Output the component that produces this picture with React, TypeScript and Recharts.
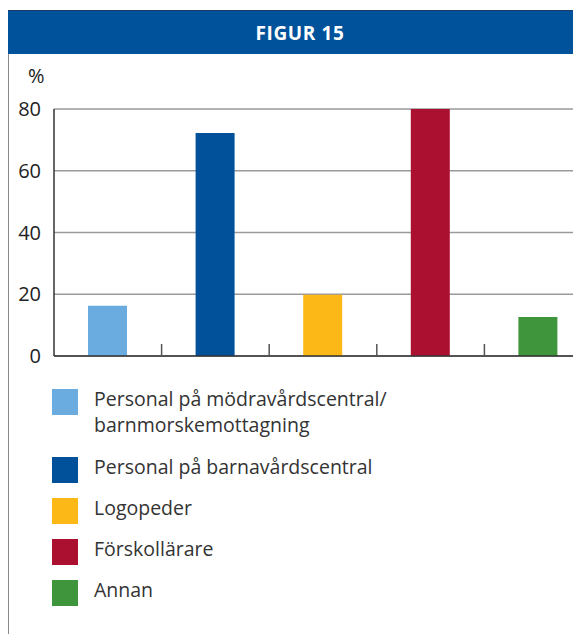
import React from 'react';
import { BarChart, Bar, XAxis, YAxis, CartesianGrid, Cell } from 'recharts';

const categories = [
  'Personal på mödravårdscentral/\nbarnmorskemottagning',
  'Personal på barnavårdscentral',
  'Logopeder',
  'Förskollärare',
  'Annan',
];
const values = [16.3, 72.2, 19.8, 80, 12.6];
const colors = ['#6aacdf', '#00519a', '#fcb817', '#ac1030', '#3f953b'];
const yTicks = [0, 20, 40, 60, 80];

const data = categories.map((c, i) => ({ name: c, value: values[i] }));

const FONT = '"Open Sans", "DejaVu Sans", sans-serif';

// Draws a small divider mark on the right edge of each category band (except the last)
const DividerTick = (props: any) => {
  const { x, y, payload, index, visibleTicksCount } = props;
  if (index >= visibleTicksCount - 1) return <g />;
  const half = payload && payload.offset ? payload.offset : 0;
  const xx = x + half;
  return <line x1={xx} x2={xx} y1={y} y2={y - 12} stroke="#555" strokeWidth={1.5} />;
};

export default function App() {
  return (
    <div style={{ width: 573, overflow: 'hidden', marginTop: 2, fontFamily: FONT }}>
      <div style={{ width: 584 }}>
        <div
          style={{
            height: 44,
            background: '#00529b',
            borderTop: '1px solid #1d3a66',
            boxSizing: 'border-box',
            color: '#fff',
            fontWeight: 700,
            fontSize: 19,
            letterSpacing: 0.6,
            display: 'flex',
            alignItems: 'center',
            justifyContent: 'center',
          }}
        >
          FIGUR 15
        </div>
        <div
          style={{
            position: 'relative',
            borderLeft: '1px solid #8a8a8a',
            height: 580,
            boxSizing: 'border-box',
          }}
        >
          <div
            style={{
              position: 'absolute',
              top: 8,
              left: 19,
              fontSize: 20,
              lineHeight: '28px',
              color: '#222',
            }}
          >
            %
          </div>
          <BarChart
            width={583}
            height={315}
            data={data}
            margin={{ top: 55, right: 0, bottom: 12, left: 0 }}
            barCategoryGap={0}
          >
            <CartesianGrid vertical={false} stroke="#9a9a9a" strokeWidth={1.5} />
            <XAxis
              dataKey="name"
              height={1}
              interval={0}
              tickLine={false}
              tickSize={0}
              tickMargin={0}
              tick={DividerTick}
              axisLine={{ stroke: '#333', strokeWidth: 1.5 }}
            />
            <YAxis
              width={45}
              domain={[0, 80]}
              ticks={yTicks}
              interval={0}
              tickLine={false}
              tickSize={11}
              tickMargin={2}
              axisLine={{ stroke: '#333', strokeWidth: 1.5 }}
              tick={{ fontSize: 20, fill: '#222', fontFamily: FONT }}
            />
            <Bar dataKey="value" barSize={39} isAnimationActive={false}>
              {data.map((d, i) => (
                <Cell key={d.name} fill={colors[i]} />
              ))}
            </Bar>
          </BarChart>
          <div style={{ marginTop: 17, paddingLeft: 43 }}>
            {categories.map((c, i) => (
              <div
                key={c}
                style={{ display: 'flex', alignItems: 'flex-start', marginBottom: i === 0 ? 16 : 12 }}
              >
                <div
                  style={{
                    width: 26,
                    height: 26,
                    background: colors[i],
                    marginTop: 3,
                    flexShrink: 0,
                  }}
                />
                <div
                  style={{
                    marginLeft: 16,
                    fontSize: 19.5,
                    lineHeight: '26px',
                    color: '#333',
                    whiteSpace: 'pre-line',
                  }}
                >
                  {c}
                </div>
              </div>
            ))}
          </div>
        </div>
      </div>
    </div>
  );
}
